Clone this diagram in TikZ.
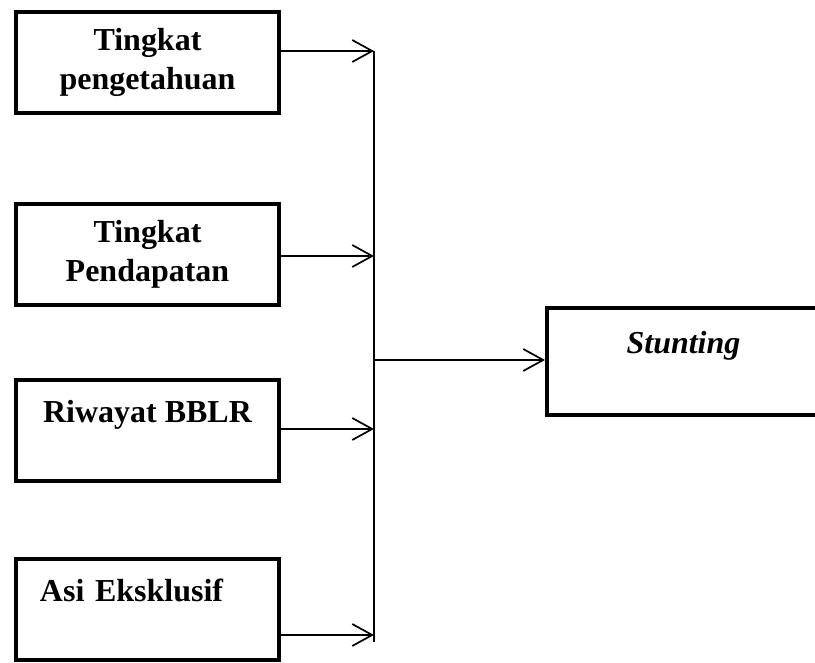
\documentclass[tikz,border=0pt]{standalone}
\usepackage{fontspec}
\setmainfont{Liberation Serif}
\usepackage{tikz}
\usetikzlibrary{positioning,arrows.meta}

\begin{document}
\begin{tikzpicture}[
    block/.style={rectangle,draw=black,line width=0.08cm,minimum width=5.26cm,minimum height=2.02cm,align=center,font=\fontsize{18.2}{22.2}\selectfont\bfseries},
    arrow/.style={-{Straight Barb[length=0.4cm,width=0.44cm]},line width=0.034cm,black}
]
\useasboundingbox (0,0) rectangle (16.3,-13.26);

\node[block] (know) at (2.95,-1.25) {Tingkat\\pengetahuan};
\node[block] (income) at (2.95,-5.09) {Tingkat\\Pendapatan};
\node[block] (bblr) at (2.95,-8.62) {Riwayat BBLR\\\mbox{}};
\node[block,text width=4.3cm,align=left] (asi) at (2.95,-12.19) {Asi Eksklusif\\\mbox{}};
\node[block,minimum width=5.46cm,minimum height=2.14cm,font=\fontsize{18.2}{22.2}\selectfont\bfseries\itshape] (stunt) at (13.67,-7.23) {Stunting\\\mbox{}};

\coordinate (j1) at (7.48,-1.02);
\coordinate (j2) at (7.48,-5.12);
\coordinate (j3) at (7.48,-8.58);
\coordinate (j4) at (7.48,-12.70);
\coordinate (jend) at (7.48,-12.84);
\coordinate (jmid) at (7.48,-7.20);

\draw[line width=0.034cm] (j1) -- (jend);
\draw[arrow] (know.east |- j1) -- (j1);
\draw[arrow] (income.east |- j2) -- (j2);
\draw[arrow] (bblr.east |- j3) -- (j3);
\draw[arrow] (asi.east |- j4) -- (j4);
\draw[arrow] (jmid) -- (stunt.west |- jmid);

\end{tikzpicture}
\end{document}
